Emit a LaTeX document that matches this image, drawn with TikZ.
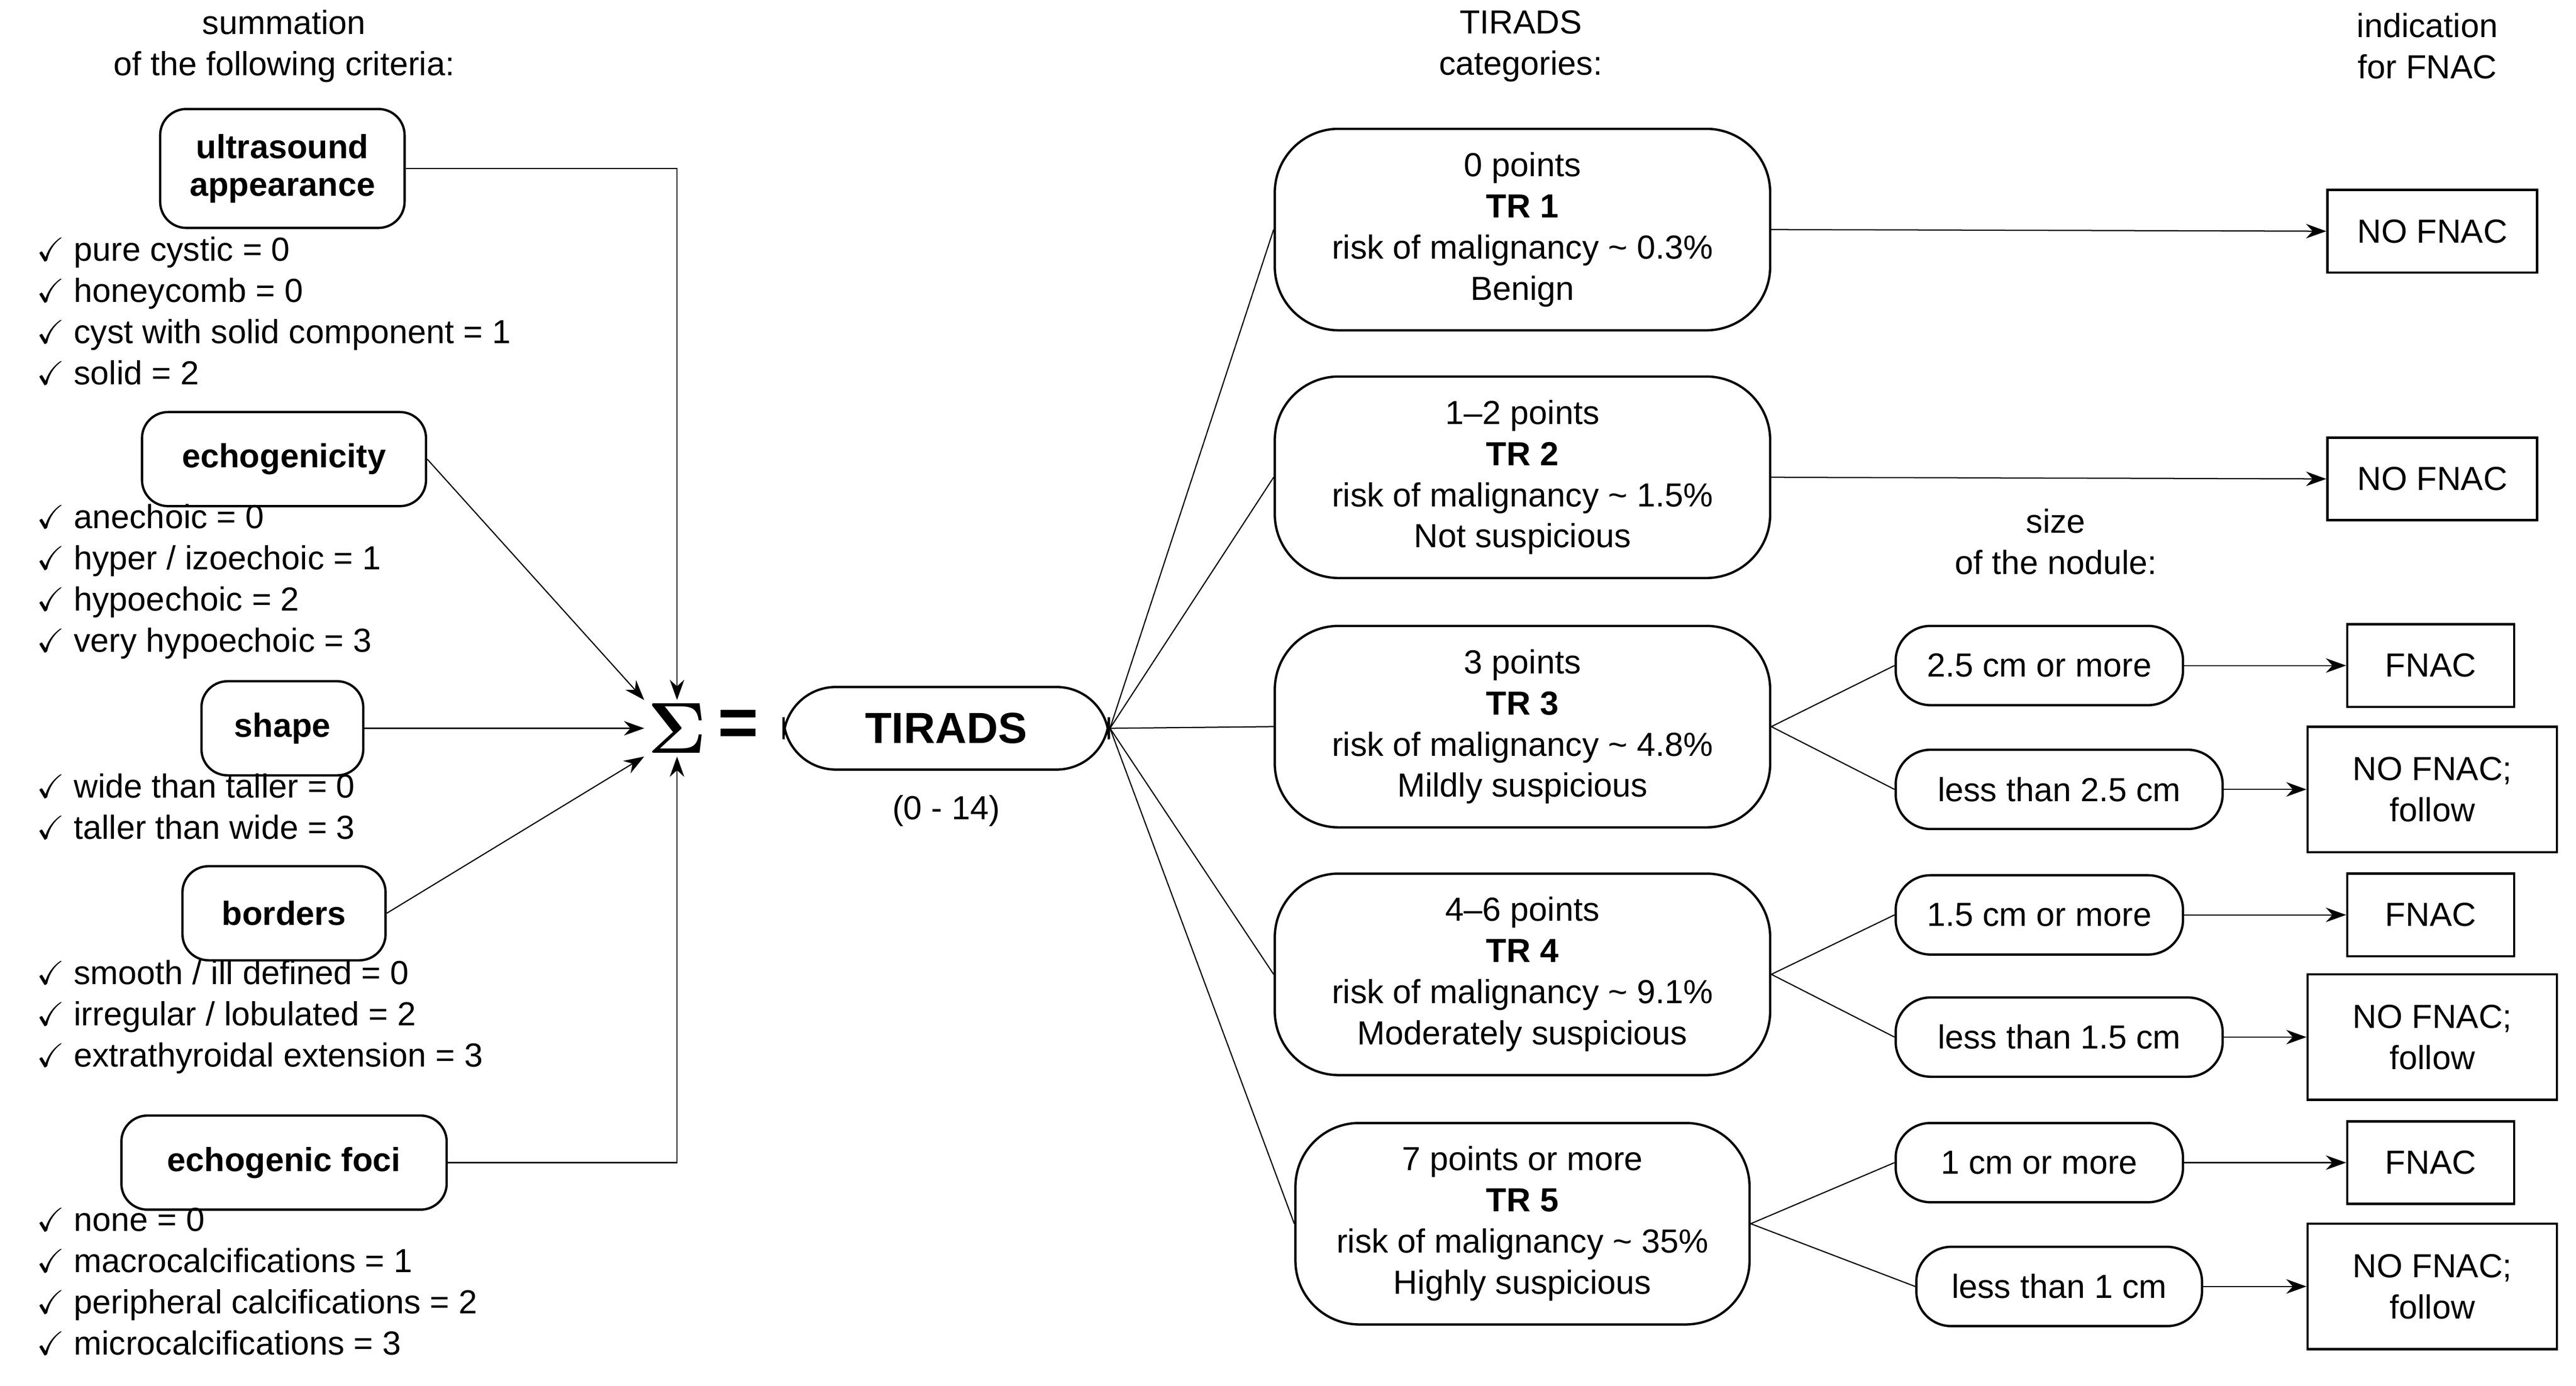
\documentclass[tikz,border=0pt]{standalone}
\usepackage{amssymb}
\usepackage{amsmath}
\usepackage{fontspec}
\setmainfont{Liberation Sans}
\usetikzlibrary{arrows.meta}
\begin{document}
\begin{tikzpicture}[x=0.02cm, y=-0.02cm, >={Stealth[length=7pt,width=5pt]},
    every node/.style={font=\fontsize{11.5}{14.2}\selectfont},
    crit/.style={draw, thick, rounded corners=9pt, align=center, font=\fontsize{11.5}{13}\selectfont\bfseries, minimum height=46pt*0.705},
    cat/.style={draw, thick, rounded corners=22pt, align=center, minimum width=300*0.02cm, minimum height=122*0.02cm},
    size/.style={draw, thick, rounded corners=12pt, minimum height=48*0.02cm},
    fnac/.style={draw, thick, align=center, minimum height=50*0.02cm, minimum width=101*0.02cm},
    items/.style={anchor=north west, align=left, inner sep=0pt},
    head/.style={align=center}]
    % --- CADRE ---
    \useasboundingbox (0,0) rectangle (1560,839);

    % --- EN-TETES ---
    \node[head] (h1) at (172,28) {summation\\of the following criteria:};
    \node[head] (h2) at (921,28) {TIRADS\\categories:};
    \node[head] (h3) at (1470,28) {indication\\for FNAC};
    \node[head] (h4) at (1245,328) {size\\of the nodule:};

    % --- CRITERES ---
    \node[crit, minimum width=148*0.02cm, minimum height=72*0.02cm] (us) at (171,102) {ultrasound\\appearance};
    \node[items] (l1) at (22,143) {$\checkmark$ pure cystic = 0\\$\checkmark$ honeycomb = 0\\$\checkmark$ cyst with solid component = 1\\$\checkmark$ solid = 2};
    \node[crit, minimum width=172*0.02cm] (echo) at (172,278) {echogenicity};
    \node[items] (l2) at (22,305) {$\checkmark$ anechoic = 0\\$\checkmark$ hyper / izoechoic = 1\\$\checkmark$ hypoechoic = 2\\$\checkmark$ very hypoechoic = 3};
    \node[crit, minimum width=98*0.02cm] (shape) at (171,441) {shape};
    \node[items] (l3) at (22,468) {$\checkmark$ wide than taller = 0\\$\checkmark$ taller than wide = 3};
    \node[crit, minimum width=123*0.02cm] (bord) at (172,553) {borders};
    \node[items] (l4) at (22,581) {$\checkmark$ smooth / ill defined = 0\\$\checkmark$ irregular / lobulated = 2\\$\checkmark$ extrathyroidal extension = 3};
    \node[crit, minimum width=197*0.02cm] (foci) at (172,704) {echogenic foci};
    \node[items] (l5) at (22,731) {$\checkmark$ none = 0\\$\checkmark$ macrocalcifications = 1\\$\checkmark$ peripheral calcifications = 2\\$\checkmark$ microcalcifications = 3};

    % --- SOMME ---
    \node[inner sep=1pt, font=\fontsize{24}{24}\selectfont\bfseries] (sum) at (410,441) {$\boldsymbol{\Sigma}$};
    \node[font=\fontsize{24}{24}\selectfont\bfseries] (eq) at (447,441) {=};
    \node[draw, thick, rounded corners=18pt, minimum width=197*0.02cm, minimum height=50*0.02cm, font=\fontsize{15}{15}\selectfont\bfseries] (tir) at (573,441) {TIRADS};
    \node (range) at (573,491) {(0 - 14)};

    \coordinate (c1) at (410,102);
    \coordinate (c5) at (410,704);
    \draw[->] (us.east) -- (c1) -- (sum.north);
    \draw[->] (echo.east) -- (sum.north west);
    \draw[->] (shape.east) -- (sum.west);
    \draw[->] (bord.east) -- (sum.south west);
    \draw[->] (foci.east) -- (c5) -- (sum.south);

    % --- CATEGORIES ---
    \node[cat] (tr1) at (922,139) {0 points\\\textbf{TR 1}\\risk of malignancy \textasciitilde{} 0.3\%\\Benign};
    \node[cat] (tr2) at (922,289) {1--2 points\\\textbf{TR 2}\\risk of malignancy \textasciitilde{} 1.5\%\\Not suspicious};
    \node[cat] (tr3) at (922,440) {3 points\\\textbf{TR 3}\\risk of malignancy \textasciitilde{} 4.8\%\\Mildly suspicious};
    \node[cat] (tr4) at (922,590) {4--6 points\\\textbf{TR 4}\\risk of malignancy \textasciitilde{} 9.1\%\\Moderately suspicious};
    \node[cat, minimum width=275*0.02cm] (tr5) at (922,741) {7 points or more\\\textbf{TR 5}\\risk of malignancy \textasciitilde{} 35\%\\Highly suspicious};
    \foreach \t in {tr1,tr2,tr3,tr4,tr5}
        \draw (tir.east) -- (\t.west);

    % --- TAILLE ---
    \node[size, minimum width=174*0.02cm] (s3a) at (1235,403) {2.5 cm or more};
    \node[size, minimum width=198*0.02cm] (s3b) at (1247,478) {less than 2.5 cm};
    \node[size, minimum width=174*0.02cm] (s4a) at (1235,554) {1.5 cm or more};
    \node[size, minimum width=198*0.02cm] (s4b) at (1247,628) {less than 1.5 cm};
    \node[size, minimum width=174*0.02cm] (s5a) at (1235,704) {1 cm or more};
    \node[size, minimum width=173*0.02cm] (s5b) at (1247,779) {less than 1 cm};
    \draw (tr3.east) -- (s3a.west); \draw (tr3.east) -- (s3b.west);
    \draw (tr4.east) -- (s4a.west); \draw (tr4.east) -- (s4b.west);
    \draw (tr5.east) -- (s5a.west); \draw (tr5.east) -- (s5b.west);

    % --- FNAC ---
    \node[fnac, minimum width=127*0.02cm] (f1) at (1473,140) {NO FNAC};
    \node[fnac, minimum width=127*0.02cm] (f2) at (1473,290) {NO FNAC};
    \node[fnac] (f3a) at (1472,403) {FNAC};
    \node[fnac, minimum width=151*0.02cm, minimum height=76*0.02cm] (f3b) at (1473,478) {NO FNAC;\\follow};
    \node[fnac] (f4a) at (1472,554) {FNAC};
    \node[fnac, minimum width=151*0.02cm, minimum height=76*0.02cm] (f4b) at (1473,628) {NO FNAC;\\follow};
    \node[fnac] (f5a) at (1472,704) {FNAC};
    \node[fnac, minimum width=151*0.02cm, minimum height=76*0.02cm] (f5b) at (1473,779) {NO FNAC;\\follow};
    \draw[->] (tr1.east) -- (f1.west);
    \draw[->] (tr2.east) -- (f2.west);
    \draw[->] (s3a.east) -- (f3a.west); \draw[->] (s3b.east) -- (f3b.west);
    \draw[->] (s4a.east) -- (f4a.west); \draw[->] (s4b.east) -- (f4b.west);
    \draw[->] (s5a.east) -- (f5a.west); \draw[->] (s5b.east) -- (f5b.west);
\end{tikzpicture}
\end{document}
